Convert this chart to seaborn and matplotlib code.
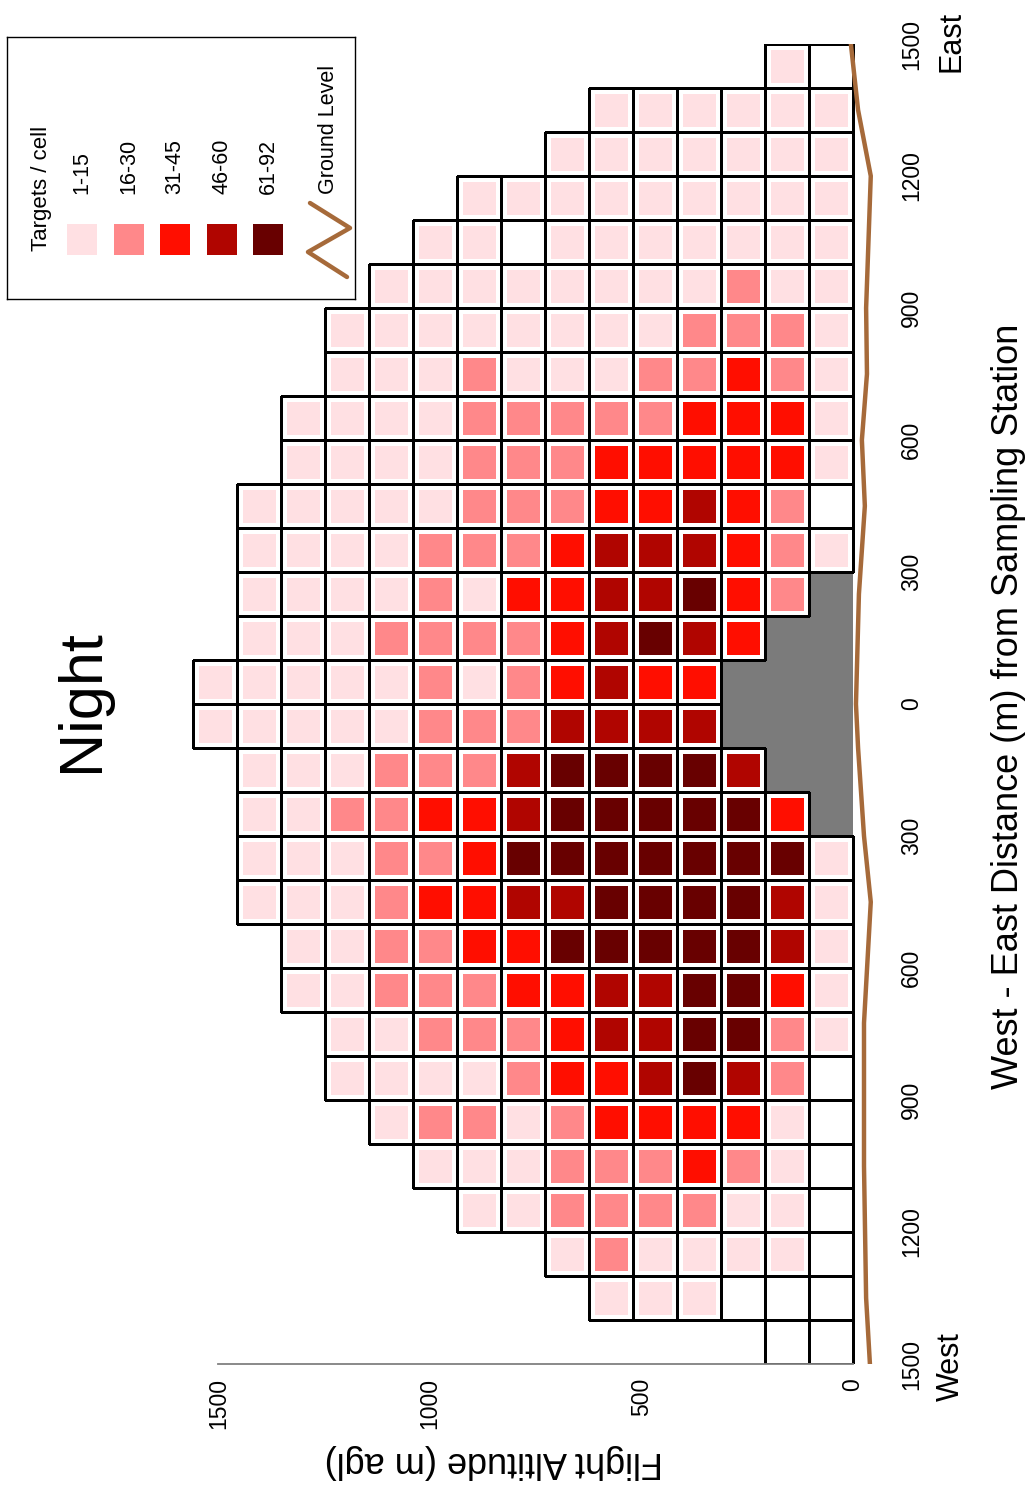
import numpy as np
import pandas as pd
import matplotlib

matplotlib.use("Agg")
import matplotlib.pyplot as plt
from matplotlib.colors import ListedColormap
from matplotlib.patches import Rectangle
import seaborn as sns

W, H = 1029, 1486

# one string per 100 m distance band, East 1500 (top) to West 1500 (bottom);
# characters run from the highest altitude band (left) down to the ground (right)
# ' ' not sampled, '0' sampled but no targets, '1'-'5' target classes, 'g' station block
cell_rows = [
    "             10",
    "         111111",
    "        1111111",
    "      111111111",
    "     1101111111",
    "    11111111211",
    "   111111112221",
    "   111211122321",
    "  1111222223331",
    "  1111222333331",
    " 11111222334320",
    " 11112223444321",
    " 1111213344532g",
    " 111222234543gg",
    "111112123433ggg",
    "111112224444ggg",
    " 111222455554gg",
    " 1122334555553g",
    " 11122355555551",
    " 11123344555541",
    "  1122335555541",
    "  1122233445531",
    "   112223445521",
    "   111123345420",
    "    12212333310",
    "     1112223210",
    "      112222110",
    "        1211110",
    "         111000",
    "             00",
]

class_labels = ["1-15", "16-30", "31-45", "46-60", "61-92"]
class_colors = ["#FFE0E3", "#FF888A", "#FF0E00", "#B00500", "#680000"]
station_color = "#7B7B7B"
ground_color = "#A66A3A"

# ground profile: distance (m, east positive) and elevation relative to station (m)
ground_dist = [1500, 1350, 1200, 900, 750, 600, 450, 250, 0, -100, -300, -450, -725, -1050, -1350, -1500]
ground_elev = [5, -12, -42, -31, -33, -21, -28, -14, -7, -12, -26, -42, -26, -26, -31, -40]

dist_ticks = [1500, 1200, 900, 600, 300, 0, -300, -600, -900, -1200, -1500]
alt_ticks = [0, 500, 1000, 1500]
ALT_CELL = 104  # metres of altitude per heatmap column
DIST_CELL = 100

codes = {" ": np.nan, "0": 0, "1": 1, "2": 2, "3": 3, "4": 4, "5": 5, "g": 6}
grid = np.array([[codes[c] for c in row] for row in cell_rows], dtype=float)
ncol = grid.shape[1]
sampled = (grid >= 0) & (grid <= 5)
station = grid == 6

sns.set_style("white")
plt.rcParams["font.family"] = ["Liberation Sans", "DejaVu Sans"]
plt.rcParams["text.color"] = "black"
plt.rcParams["xtick.color"] = "black"
plt.rcParams["ytick.color"] = "black"

fig = plt.figure(figsize=(W / 100, H / 100), dpi=100)
ax = fig.add_axes([171 / W, 1 - 1364 / H, 715 / W, 1320 / H])

# coloured squares, white gutters give the inset look
sns.heatmap(grid, mask=~sampled, cmap=ListedColormap(["white"] + class_colors),
            vmin=-0.5, vmax=5.5, linewidths=6.5, linecolor="white", cbar=False, ax=ax)
# station block
sns.heatmap(grid, mask=~station, cmap=ListedColormap([station_color]),
            vmin=0, vmax=7, linewidths=0, cbar=False, ax=ax)
# black cell outlines, only round sampled cells
sns.heatmap(grid, mask=~sampled, cmap=ListedColormap([(1, 1, 1, 0)]),
            vmin=0, vmax=7, linewidths=1.0, linecolor="black", cbar=False, ax=ax)
mesh = ax.collections[-1]
edges = np.zeros((grid.size, 4))
edges[sampled.ravel()] = (0, 0, 0, 1)
mesh.set_edgecolor(edges)

ground = pd.DataFrame({"dist": ground_dist, "elev": ground_elev})
ground["gx"] = ncol - ground["elev"] / ALT_CELL
ground["gy"] = (1500 - ground["dist"]) / DIST_CELL
sns.lineplot(data=ground, x="gx", y="gy", sort=False, estimator=None,
             color=ground_color, lw=3.2, ax=ax, zorder=5)

ax.set_xlim(-0.5, 15.75)
ax.set_ylim(30, 0)
ax.set_xlabel("")
ax.set_ylabel("")

ax.set_xticks([ncol - a / ALT_CELL for a in alt_ticks])
ax.set_xticklabels([str(a) for a in alt_ticks])
ax.set_yticks([(1500 - d) / DIST_CELL for d in dist_ticks])
ax.set_yticklabels([str(abs(d)) for d in dist_ticks])
ax.yaxis.tick_right()
ax.tick_params(axis="x", length=0, pad=10, labelsize=16.5, labelrotation=90, labelcolor="black")
ax.tick_params(axis="y", length=0, pad=10, labelsize=16.5, labelrotation=90, labelcolor="black",
               left=False, right=False, labelleft=False, labelright=True)
for lbl in ax.get_yticklabels():
    lbl.set_va("center")

for side in ["top", "left", "right"]:
    ax.spines[side].set_visible(False)
ax.spines["bottom"].set_visible(True)
ax.spines["bottom"].set_color("#808080")
ax.spines["bottom"].set_linewidth(1.3)
ax.spines["bottom"].set_bounds(ncol - 1500 / ALT_CELL, ncol)


def fx(x):
    return x / W


def fy(y):
    return 1 - y / H


fig.text(fx(82), fy(701), "Night", rotation=90, ha="center", va="center", fontsize=44)
fig.text(fx(1008), fy(706), "West - East Distance (m) from Sampling Station",
         rotation=90, ha="center", va="center", fontsize=26)
fig.text(fx(951), fy(41), "East", rotation=90, ha="center", va="center", fontsize=22)
fig.text(fx(951), fy(1367), "West", rotation=90, ha="center", va="center", fontsize=22)
fig.text(fx(494), fy(1462), "Flight Altitude (m agl)", rotation=180,
         ha="center", va="center", fontsize=26)

# legend, drawn by hand because it is rotated with the rest of the chart
lax = fig.add_axes([fx(7), fy(299), 348 / W, 262 / H])
lax.set_xlim(7, 355)
lax.set_ylim(299, 37)
lax.set_xticks([])
lax.set_yticks([])
for s in lax.spines.values():
    s.set_visible(True)
    s.set_color("black")
    s.set_linewidth(1.0)

lax.text(41, 251, "Targets / cell", rotation=90, ha="center", va="bottom", fontsize=16)
for i, (lab, col) in enumerate(zip(class_labels, class_colors)):
    left = 67 + i * 46.6
    lax.add_patch(Rectangle((left, 224), 30, 31, color=col, lw=0))
    lax.text(left + 15, 194, lab, rotation=90, ha="center", va="bottom", fontsize=15.5)
lax.plot([310, 350, 308, 347], [203, 228, 252, 277], color=ground_color, lw=3.2)
lax.text(328, 194, "Ground Level", rotation=90, ha="center", va="bottom", fontsize=15.5)

fig.savefig("out.png", dpi=100)
